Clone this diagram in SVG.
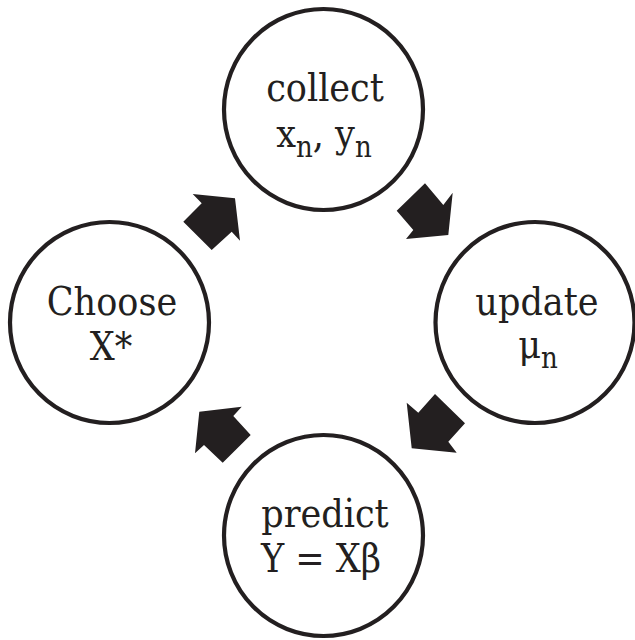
<svg xmlns="http://www.w3.org/2000/svg" width="635" height="640" viewBox="0 0 635 640">
<style>
.node{fill:#fff;stroke:#231f20;stroke-width:4.2}
.lbl{font-family:"DejaVu Serif Condensed","DejaVu Serif","Liberation Serif",serif;font-stretch:condensed;font-size:39px;fill:#231f20;text-anchor:middle}
.sub{font-size:29px}
.arrow{fill:#231f20}
</style>
<rect width="635" height="640" fill="#fff"/>
<g id="collect">
<ellipse class="node" cx="323.5" cy="109.5" rx="99.5" ry="100.5"/>
<text class="lbl" x="325" y="101">collect</text>
<text class="lbl" x="324" y="147">x<tspan class="sub" dy="10">n</tspan><tspan dy="-10">, y</tspan><tspan class="sub" dy="10">n</tspan></text>
</g>
<g id="update">
<ellipse class="node" cx="535" cy="322.5" rx="99.5" ry="100.5"/>
<text class="lbl" x="537" y="315">update</text>
<text class="lbl" x="538" y="358">μ<tspan class="sub" dy="10">n</tspan></text>
</g>
<g id="predict">
<ellipse class="node" cx="323.5" cy="535.5" rx="99.5" ry="100.5"/>
<text class="lbl" x="325" y="527">predict</text>
<text class="lbl" x="321" y="572">Y = Xβ</text>
</g>
<g id="choose">
<ellipse class="node" cx="109.5" cy="322.5" rx="99.5" ry="100.5"/>
<text class="lbl" x="112" y="315">Choose</text>
<text class="lbl" x="111" y="360">X*</text>
</g>
<g id="connectors">
<polygon class="arrow" points="235,198.3 192.7,194 201.7,203.3 183.3,221.7 211.7,250 231.7,231.7 240,240.7"/>
<polygon class="arrow" points="425,183.3 443.3,205 452.7,192.7 448.3,235 406,239 413.3,230 396.7,210.7"/>
<polygon class="arrow" points="435,394 465,423.3 448.3,441.7 456.7,452.7 411.7,448.3 406.7,402.7 418.3,412.7"/>
<polygon class="arrow" points="199.3,411.7 241.7,406.7 233.3,416 250.7,435 222.7,462.7 204,445 195,453.3"/>
</g>
</svg>
